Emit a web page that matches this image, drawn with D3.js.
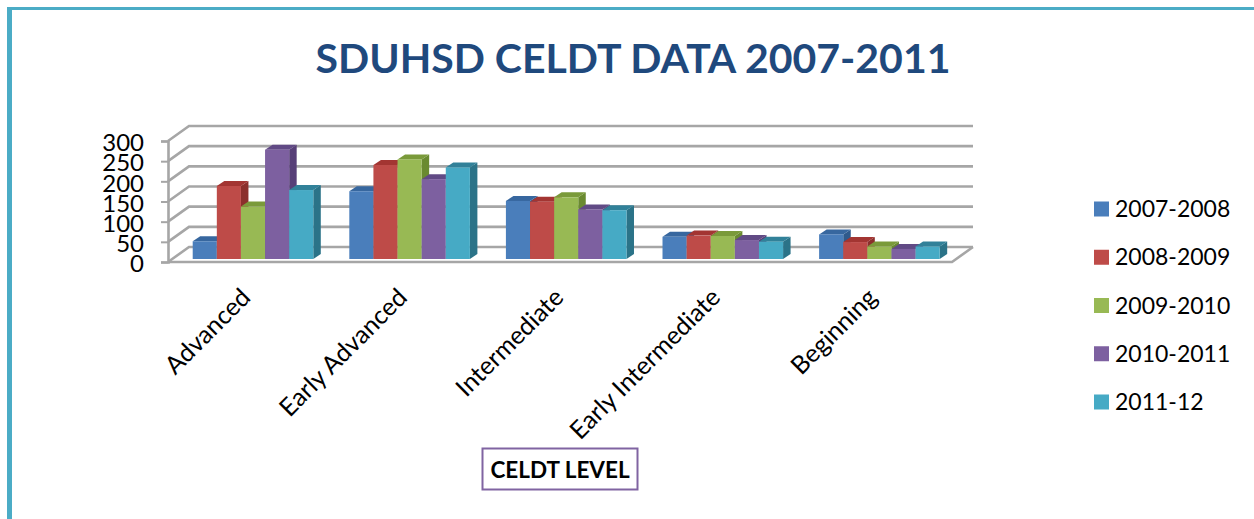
<!DOCTYPE html>
<html>
<head>
<meta charset="utf-8">
<script src="https://cdn.jsdelivr.net/npm/d3@7"></script>
<style>
    html, body { margin: 0; padding: 0; background: #fff; overflow: hidden; }
    svg, svg text { display: block; font-family: Lato, "Open Sans", sans-serif; }
</style>
</head>
<body>
<svg id="chart" width="1254" height="519"></svg>
<script>
const categories = ['Advanced', 'Early Advanced', 'Intermediate', 'Early Intermediate', 'Beginning'];
const seriesNames = ['2007-2008', '2008-2009', '2009-2010', '2010-2011', '2011-12'];
const yTicks = [0, 50, 100, 150, 200, 250, 300];

const values2007 = [44, 168, 144, 55, 61];
const values2008 = [181, 233, 142, 58, 42];
const values2009 = [130, 247, 153, 57, 31];
const values2010 = [271, 198, 123, 47, 25];
const values2011 = [171, 227, 121, 43, 31];
const seriesValues = [values2007, values2008, values2009, values2010, values2011];

const frontColors = ['#4a7ebb', '#be4b48', '#98b954', '#7d60a0', '#46aac5'];
const sideColors = ['#2f5a8c', '#8c2f2c', '#6a8a30', '#573f78', '#2b7388'];
const capColors = ['#37679f', '#a33532', '#7a9a3a', '#614a85', '#318199'];

const GRID_COLOR = '#a6a6a6';
const FLOOR_DEPTH = { x: 21, y: 15 };
const BAR_DEPTH = { x: 7.5, y: 5 };
const BAR_LIFT = 3;
const PLOT = { left: 168, right: 952, bottom: 262, top: 141 };

const svg = d3.select('#chart');

// Frame
svg.append('rect').attr('x', 7).attr('y', 7).attr('width', 1247).attr('height', 3).attr('fill', '#4bacc6');
svg.append('rect').attr('x', 7).attr('y', 7).attr('width', 5).attr('height', 512).attr('fill', '#4bacc6');

// Title
svg.append('text')
    .attr('x', 633)
    .attr('y', 73)
    .attr('text-anchor', 'middle')
    .attr('fill', '#1f497d')
    .style('font-size', '41px')
    .style('font-weight', '700')
    .text('SDUHSD CELDT DATA 2007-2011');

// Scales
const yScale = d3.scaleLinear().domain([0, 300]).range([PLOT.bottom, PLOT.top]);
const xScale = d3.scaleBand()
    .domain(categories)
    .range([174.7, 957.7])
    .paddingInner(0.23)
    .paddingOuter(0.115);
const seriesScale = d3.scaleBand()
    .domain(seriesNames)
    .range([0, xScale.bandwidth()]);

// Back wall and side wall gridlines
const grid = svg.append('g')
    .attr('fill', 'none')
    .attr('stroke', GRID_COLOR)
    .attr('stroke-width', 2.6);

grid.selectAll('.back')
    .data(yTicks)
    .enter().append('path')
    .attr('class', 'back')
    .attr('d', d => {
        const y = yScale(d);
        return `M${PLOT.left},${y}L${PLOT.left + FLOOR_DEPTH.x},${y - FLOOR_DEPTH.y}L${PLOT.right + FLOOR_DEPTH.x},${y - FLOOR_DEPTH.y}`;
    });

// Floor front edge and right edge
grid.append('path')
    .attr('d', `M${PLOT.left},${yScale(0)}L${PLOT.right},${yScale(0)}L${PLOT.right + FLOOR_DEPTH.x},${yScale(0) - FLOOR_DEPTH.y}`);

// Y axis
const yAxis = d3.axisLeft(yScale).tickValues(yTicks).tickSize(7).tickPadding(17);
const yAxisGroup = svg.append('g')
    .attr('transform', `translate(${PLOT.left},0)`)
    .call(yAxis);
yAxisGroup.select('.domain').attr('stroke', GRID_COLOR).attr('stroke-width', 2.6);
yAxisGroup.selectAll('.tick line').attr('stroke', GRID_COLOR).attr('stroke-width', 2);
yAxisGroup.selectAll('.tick text')
    .attr('fill', '#000')
    .attr('y', 2)
    .style('font-size', '24px');

// 3D bars, drawn left to right so each bar hides the side of the one before it
const rows = [];
categories.forEach((cat, i) => {
    seriesNames.forEach((name, s) => {
        rows.push({ cat, name, s, value: seriesValues[s][i] });
    });
});

const bars = svg.append('g').selectAll('.bar')
    .data(rows)
    .enter().append('g')
    .attr('class', 'bar');

const barX = d => xScale(d.cat) + seriesScale(d.name);
const barTop = d => yScale(d.value) - BAR_LIFT;
const barBase = yScale(0) - BAR_LIFT;
const barW = seriesScale.bandwidth();

bars.append('path')
    .attr('fill', d => sideColors[d.s])
    .attr('d', d => {
        const x = barX(d) + barW;
        return `M${x},${barTop(d)}l${BAR_DEPTH.x},${-BAR_DEPTH.y}L${x + BAR_DEPTH.x},${barBase - BAR_DEPTH.y}L${x},${barBase}Z`;
    });

bars.append('path')
    .attr('fill', d => capColors[d.s])
    .attr('d', d => `M${barX(d)},${barTop(d)}l${BAR_DEPTH.x},${-BAR_DEPTH.y}h${barW}l${-BAR_DEPTH.x},${BAR_DEPTH.y}Z`);

bars.append('rect')
    .attr('x', barX)
    .attr('y', barTop)
    .attr('width', barW)
    .attr('height', d => barBase - barTop(d))
    .attr('fill', d => frontColors[d.s]);

// Category labels
const xAxis = d3.axisBottom(xScale).tickSize(0).tickPadding(0);
const xAxisGroup = svg.append('g')
    .attr('transform', `translate(0,${PLOT.bottom})`)
    .call(xAxis);
xAxisGroup.select('.domain').remove();
xAxisGroup.selectAll('.tick text')
    .attr('fill', '#000')
    .attr('text-anchor', 'end')
    .attr('dy', 0)
    .attr('y', 0)
    .attr('transform', 'translate(-1,37) rotate(-45)')
    .style('font-size', '25px');

// Legend
const legendScale = d3.scalePoint().domain(seriesNames).range([209, 402]);
const legend = svg.append('g').selectAll('.legend')
    .data(seriesNames)
    .enter().append('g')
    .attr('class', 'legend')
    .attr('transform', d => `translate(1094,${legendScale(d)})`);

legend.append('rect')
    .attr('y', -7.5)
    .attr('width', 15)
    .attr('height', 15)
    .attr('fill', (d, i) => frontColors[i]);

legend.append('text')
    .attr('x', 21)
    .attr('y', 8)
    .attr('fill', '#000')
    .style('font-size', '23px')
    .text(d => d);

// Axis title box
svg.append('rect')
    .attr('x', 482.5)
    .attr('y', 448.5)
    .attr('width', 155)
    .attr('height', 41)
    .attr('fill', '#fff')
    .attr('stroke', '#8064a2')
    .attr('stroke-width', 2);

svg.append('text')
    .attr('x', 560)
    .attr('y', 478)
    .attr('text-anchor', 'middle')
    .attr('fill', '#000')
    .style('font-size', '22.5px')
    .style('font-weight', '700')
    .text('CELDT LEVEL');
</script>
</body>
</html>
